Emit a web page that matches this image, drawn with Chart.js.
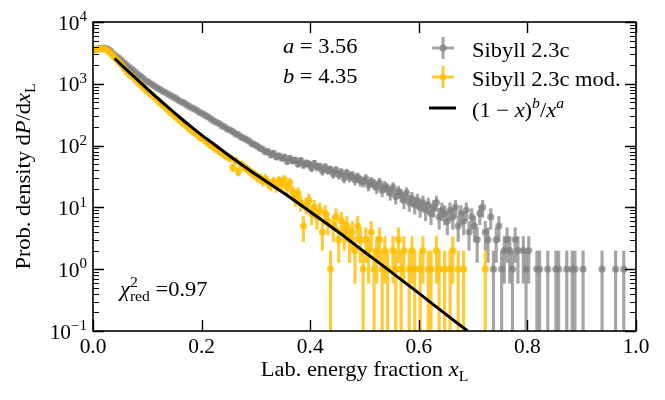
<!DOCTYPE html>
<html>
<head>
<meta charset="utf-8">
<script src="https://cdn.jsdelivr.net/npm/chart.js@4.4.1/dist/chart.umd.min.js"></script>
<style>
  html, body { margin: 0; padding: 0; background: #fff; }
</style>
</head>
<body>
<canvas id="xlChart" width="665" height="400"></canvas>
<script>
// histogram bins, 0 -> 1 in steps of binWidth (null = empty bin)
const binWidth = 0.005;

const sibyllCounts = [
  3600, 3650, 3700, 3780, 3760, 3640, 3400, 3050, 2800, 2600,
  2400, 2180, 1980, 1830, 1700, 1560, 1420, 1330, 1230, 1120,
  1060, 990, 930, 860, 820, 770, 730, 690, 650, 610,
  585, 540, 510, 490, 455, 430, 405, 390, 365, 340,
  325, 305, 290, 268, 250, 238, 228, 210, 200, 185,
  178, 168, 155, 150, 138, 132, 125, 118, 108, 104,
  98, 91, 87, 79, 80, 71, 75, 66, 68, 63,
  65, 56, 62, 57, 58, 51, 57, 49, 52, 50,
  44, 51, 45, 46, 39, 45, 40, 41, 35, 40,
  34, 37, 30, 36, 31, 33, 28, 31, 27, 26,
  29, 23, 26, 24, 21, 25, 19, 22, 20, 17,
  21, 15, 18, 16, 13, 17, 12, 14, 11, 13,
  10, 12, 9, 11, 8, 10, 12, 7, 9, 8,
  6, 9, 7, 10, 5, 8, 6, 9, 4, 7,
  5, 3, 8, 10, 4, 3, 7, 1, 3, 5,
  1, 2, 3, 2, 1, 3, 2, null, 2, 1,
  2, null, null, 1, 1, null, null, 1, null, null,
  1, 1, null, null, 1, null, 1, 1, null, null,
  1, null, null, null, null, null, null, 1, null, null,
  null, null, 1, null, null, 1, null, null, null, null
];

const modCounts = [
  3550, 3620, 3680, 3700, 3620, 3400, 3100, 2800, 2520, 2250,
  2030, 1780, 1560, 1420, 1300, 1180, 1060, 960, 880, 790,
  730, 660, 610, 555, 500, 460, 420, 385, 345, 318,
  290, 265, 245, 222, 208, 188, 172, 160, 148, 135,
  128, 118, 108, 101, 92, 88, 80, 76, 70, 66,
  62, 44, 57, 38, 50, 45, 43, 39, 36, 34,
  31, 30, 27, 29, 25, 23, 26, 22, 27, 24,
  28, 21, 25, 18, 14, 17, 12, 5, 11, 13,
  8, 10, 7, 9, 4, 8, 6, 1, 5, 7,
  3, 6, 4, 5, 3, 4, 2, 5, 3, 1,
  3, 2, 4, 1, 2, 3, 1, 2, 1, null,
  2, 1, 3, 1, 2, null, 1, 2, 1, null,
  1, 2, null, 1, 1, null, 2, 1, null, 1,
  null, 1, 2, null, 1, null, 1, null, null, null,
  null, null, null, null, 1, null, null, null, null, null
];

// fitted curve
const fitX = [0.04, 0.06, 0.08, 0.10, 0.12, 0.14, 0.16, 0.18, 0.20, 0.22, 0.24, 0.26, 0.28, 0.30, 0.35, 0.40, 0.45, 0.50, 0.55, 0.60, 0.65, 0.69];
const fitY = [2570, 1740, 1200, 830, 575, 403, 285, 205, 148, 110, 81, 60, 45, 34, 17.4, 8.5, 4.1, 1.9, 0.89, 0.41, 0.186, 0.10];

const xTicks = [0, 0.2, 0.4, 0.6, 0.8, 1.0];
const xTickLabels = ['0.0', '0.2', '0.4', '0.6', '0.8', '1.0'];
const yTicks = [0.1, 1, 10, 100, 1000, 10000];
const yTickExp = ['\u22121', '0', '1', '2', '3', '4'];

const FONT = '"Liberation Serif", "DejaVu Serif", serif';
const HSCALE = 1.07;   // Times is narrower than the CM font of the original
const GRAY = 'rgba(128,128,128,0.7)';
const GOLD = 'rgba(255,190,0,0.78)';

function toPoints(counts) {
  const pts = [];
  counts.forEach((c, i) => {
    if (c !== null) pts.push({ x: (i + 0.5) * binWidth, y: c });
  });
  return pts;
}

// rich text: {t, it, s (size factor), dy (baseline shift, em), under (stack under previous)}
const R = t => ({ t });
const I = t => ({ t, it: true });
const SUP = (t, it) => ({ t, it, s: 0.7, dy: -0.42 });
const SUB = (t, it, under) => ({ t, it, s: 0.7, dy: 0.24, under });

function layoutRich(ctx, parts, size) {
  let x = 0, prevStart = 0;
  const items = parts.map(p => {
    const fs = size * (p.s || 1);
    ctx.font = (p.it ? 'italic ' : '') + fs + 'px ' + FONT;
    const w = ctx.measureText(p.t).width;
    const start = p.under ? prevStart : x;
    prevStart = start;
    x = Math.max(x, start + w);
    return { p, fs, start };
  });
  return { items, width: x };
}

function drawRich(ctx, parts, x, y, size, align) {
  const lay = layoutRich(ctx, parts, size);
  const w = lay.width * HSCALE;
  const off = align === 'center' ? -w / 2 : align === 'right' ? -w : 0;
  ctx.save();
  ctx.translate(x + off, y);
  ctx.scale(HSCALE, 1);
  ctx.textAlign = 'left';
  ctx.textBaseline = 'alphabetic';
  lay.items.forEach(it => {
    ctx.font = (it.p.it ? 'italic ' : '') + it.fs + 'px ' + FONT;
    ctx.fillText(it.p.t, it.start, (it.p.dy || 0) * size);
  });
  ctx.restore();
}

const errorBars = {
  id: 'errorBars',
  beforeDatasetDraw(chart, args) {
    const ds = chart.data.datasets[args.index];
    if (!ds.barColor) return;
    const { ctx, chartArea: a, scales: { x, y } } = chart;
    ctx.save();
    ctx.beginPath();
    ctx.rect(a.left, a.top, a.right - a.left, a.bottom - a.top);
    ctx.clip();
    ctx.strokeStyle = ds.barColor;
    ctx.lineWidth = 3.2;
    ds.data.forEach(p => {
      const err = Math.sqrt(p.y);
      const px = x.getPixelForValue(p.x);
      const py = y.getPixelForValue(p.y);
      const top = y.getPixelForValue(p.y + err);
      const lo = p.y - err;
      const bot = lo > 0 ? y.getPixelForValue(lo) : a.bottom + 5;
      ctx.beginPath();
      ctx.moveTo(px, bot);
      ctx.lineTo(px, top);
      ctx.stroke();
      ctx.beginPath();
      ctx.moveTo(x.getPixelForValue(p.x - binWidth / 2), py);
      ctx.lineTo(x.getPixelForValue(p.x + binWidth / 2), py);
      ctx.stroke();
    });
    ctx.restore();
  }
};

const decorations = {
  id: 'decorations',
  afterDraw(chart) {
    const { ctx, chartArea: a, scales: { x, y } } = chart;
    ctx.save();
    ctx.strokeStyle = '#000';
    ctx.fillStyle = '#000';

    // frame
    ctx.lineWidth = 1.6;
    ctx.strokeRect(a.left, a.top, a.right - a.left, a.bottom - a.top);

    // x ticks (inward, bottom + top)
    ctx.lineWidth = 1.4;
    xTicks.forEach(v => {
      const px = Math.round(x.getPixelForValue(v)) + 0.5;
      ctx.beginPath();
      ctx.moveTo(px, a.bottom); ctx.lineTo(px, a.bottom - 11);
      ctx.moveTo(px, a.top); ctx.lineTo(px, a.top + 11);
      ctx.stroke();
    });
    // y ticks major + minor (left + right)
    yTicks.forEach(v => {
      const py = Math.round(y.getPixelForValue(v)) + 0.5;
      ctx.lineWidth = 1.4;
      ctx.beginPath();
      ctx.moveTo(a.left, py); ctx.lineTo(a.left + 11, py);
      ctx.moveTo(a.right, py); ctx.lineTo(a.right - 11, py);
      ctx.stroke();
      if (v < 10000) {
        ctx.lineWidth = 1;
        for (let m = 2; m <= 9; m++) {
          const q = Math.round(y.getPixelForValue(m * v)) + 0.5;
          ctx.beginPath();
          ctx.moveTo(a.left, q); ctx.lineTo(a.left + 6, q);
          ctx.moveTo(a.right, q); ctx.lineTo(a.right - 6, q);
          ctx.stroke();
        }
      }
    });

    // tick labels
    xTicks.forEach((v, i) => {
      drawRich(ctx, [R(xTickLabels[i])], x.getPixelForValue(v), a.bottom + 22, 20, 'center');
    });
    yTicks.forEach((v, i) => {
      drawRich(ctx, [R('10'), SUP(yTickExp[i])], a.left - 6, y.getPixelForValue(v) + 7.5, 20, 'right');
    });

    // axis titles
    drawRich(ctx, [R('Lab. energy fraction '), I('x'), SUB('L')], (a.left + a.right) / 2, 376, 21, 'center');
    ctx.save();
    ctx.translate(30, (a.top + a.bottom) / 2);
    ctx.rotate(-Math.PI / 2);
    drawRich(ctx, [R('Prob. density d'), I('P'), R('/d'), I('x'), SUB('L')], 0, 0, 21, 'center');
    ctx.restore();

    // annotations
    drawRich(ctx, [I('a'), R(' = 3.56')], 283, 53, 21, 'left');
    drawRich(ctx, [I('b'), R(' = 4.35')], 283, 83, 21, 'left');
    drawRich(ctx, [I('\u03c7'), SUP('2'), SUB('red', false, true), R(' =0.97')], 120, 296, 21, 'left');

    // legend
    const lx = 443;
    [[GRAY, 48], [GOLD, 77]].forEach(([c, ly]) => {
      ctx.strokeStyle = c;
      ctx.fillStyle = c;
      ctx.lineWidth = 3.2;
      ctx.beginPath();
      ctx.moveTo(lx - 11, ly); ctx.lineTo(lx + 11, ly);
      ctx.moveTo(lx, ly - 11); ctx.lineTo(lx, ly + 11);
      ctx.stroke();
      ctx.beginPath();
      ctx.arc(lx, ly, 3.6, 0, Math.PI * 2);
      ctx.fill();
    });
    ctx.strokeStyle = '#000';
    ctx.lineWidth = 3;
    ctx.beginPath();
    ctx.moveTo(lx - 14, 108); ctx.lineTo(lx + 13, 108);
    ctx.stroke();
    ctx.fillStyle = '#000';
    drawRich(ctx, [R('Sibyll 2.3c')], 472, 57, 21, 'left');
    drawRich(ctx, [R('Sibyll 2.3c mod.')], 472, 86, 21, 'left');
    drawRich(ctx, [R('(1 \u2212 '), I('x'), R(')'), SUP('b', true), R('/'), I('x'), SUP('a', true)], 472, 117, 21, 'left');
    ctx.restore();
  }
};

new Chart(document.getElementById('xlChart'), {
  type: 'scatter',
  data: {
    datasets: [
      {
        label: 'Sibyll 2.3c',
        data: toPoints(sibyllCounts),
        backgroundColor: GRAY,
        barColor: GRAY,
        pointRadius: 3.6,
        borderWidth: 0,
        clip: 0,
        order: 2
      },
      {
        label: 'Sibyll 2.3c mod.',
        data: toPoints(modCounts),
        backgroundColor: GOLD,
        barColor: GOLD,
        pointRadius: 3.6,
        borderWidth: 0,
        clip: 0,
        order: 1
      },
      {
        type: 'line',
        label: '(1-x)^b/x^a',
        data: fitX.map((v, i) => ({ x: v, y: fitY[i] })),
        borderColor: '#000',
        borderWidth: 3,
        pointRadius: 0,
        showLine: true,
        cubicInterpolationMode: 'monotone',
        clip: 0,
        order: 0
      }
    ]
  },
  options: {
    responsive: false,
    animation: false,
    devicePixelRatio: 1,
    layout: { padding: { left: 93, right: 29, top: 22, bottom: 69 } },
    plugins: { legend: { display: false }, tooltip: { enabled: false } },
    scales: {
      x: { type: 'linear', min: 0, max: 1, display: false },
      y: { type: 'logarithmic', min: 0.1, max: 10000, display: false }
    }
  },
  plugins: [errorBars, decorations]
});
</script>
</body>
</html>
